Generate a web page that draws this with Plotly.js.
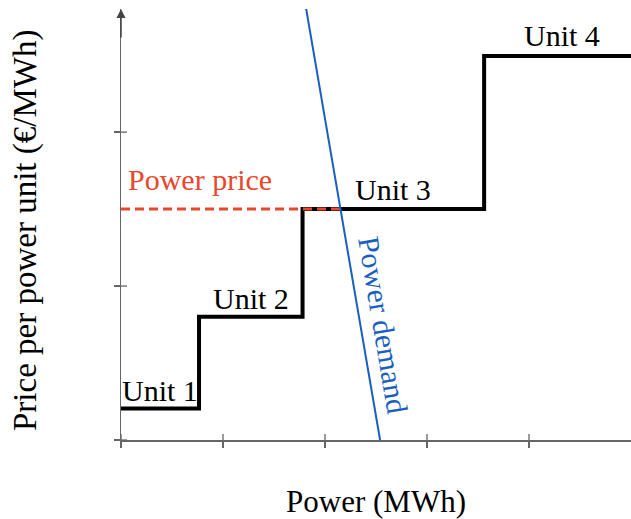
<!DOCTYPE html>
<html>
<head>
<meta charset="utf-8">
<script src="https://cdn.plot.ly/plotly-3.0.1.min.js"></script>
<style>html,body{margin:0;padding:0;background:#fff;}#chart{width:631px;height:519px;}</style>
</head>
<body>
<div id="chart"></div>
<script>
// Supply curve (merit order steps)
const supplyX = [0, 0.765, 0.765, 1.78, 1.78, 3.56, 3.56, 5.0];
const supplyY = [0.205, 0.205, 0.80, 0.80, 1.50, 1.50, 2.495, 2.495];
// Demand line
const demandX = [1.80, 2.54];
const demandY = [2.86, 0];
// Market price line
const priceX = [0, 2.15];
const priceY = [1.50, 1.50];
// Tick positions
const xTicks = [0, 1, 2, 3, 4];
const yTicks = [0, 1, 2];
// Labels
const labelText = ["Unit 1", "Unit 2", "Unit 3", "Unit 4"];
const labelX = [0.38, 1.27, 2.67, 4.32];
const labelY = [0.32, 0.92, 1.63, 2.63];

const FONT = "Liberation Serif, Times New Roman, serif";
const AXC = "#666666";

const traces = [
  {x: supplyX, y: supplyY, mode: "lines", line: {color: "#000000", width: 4}, hoverinfo: "skip"},
  {x: priceX, y: priceY, mode: "lines", line: {color: "#e8472b", width: 3, dash: "9px,5px"}, hoverinfo: "skip"},
  {x: demandX, y: demandY, mode: "lines", line: {color: "#1a5fbf", width: 2}, hoverinfo: "skip"}
];

const annotations = labelText.map((t, i) => ({
  x: labelX[i], y: labelY[i], xref: "x", yref: "y", text: t, showarrow: false,
  font: {family: FONT, size: 30, color: "#000"}
}));
annotations.push({x: 0.775, y: 1.69, xref: "x", yref: "y", text: "Power price", showarrow: false,
  font: {family: FONT, size: 30, color: "#e8472b"}});
annotations.push({x: 2.57, y: 0.75, xref: "x", yref: "y", text: "Power demand", showarrow: false, textangle: 80.4,
  font: {family: FONT, size: 30, color: "#1a5fbf"}});
annotations.push({x: 0, y: 1, xref: "x", yref: "paper", ax: 0, ay: 30, text: "", showarrow: true,
  arrowhead: 2, arrowsize: 1.2, arrowwidth: 1.5, arrowcolor: "#444", standoff: 0});
// y-axis title
annotations.push({x: (25 - 121) / 510, y: (440 - 231) / 431, xref: "paper", yref: "paper",
  xanchor: "center", yanchor: "middle",
  text: "Price per power unit (€/MWh)", textangle: -90, showarrow: false,
  font: {family: FONT, size: 33, color: "#000"}});

// inner half of the crossing tick marks, positioned by the axes
const shapes = [];
xTicks.forEach(v => shapes.push({type: "line", xref: "x", yref: "y", x0: v, x1: v,
  ysizemode: "pixel", yanchor: 0, y0: 0, y1: 6, line: {color: AXC, width: 1.3}}));
yTicks.forEach(v => shapes.push({type: "line", xref: "x", yref: "y", y0: v, y1: v,
  xsizemode: "pixel", xanchor: 0, x0: 0, x1: 6, line: {color: AXC, width: 1.3}}));

const baseAxis = {showgrid: false, zeroline: false, showticklabels: false,
  ticks: "outside", ticklen: 6, tickwidth: 1.3, tickcolor: AXC,
  showline: true, linecolor: AXC, linewidth: 1.5};

const layout = {
  width: 631, height: 519,
  margin: {l: 121, r: 0, t: 9, b: 79},
  paper_bgcolor: "#fff", plot_bgcolor: "#fff",
  showlegend: false,
  xaxis: Object.assign({}, baseAxis, {range: [0, 5], tickvals: xTicks,
    title: {text: "Power (MWh)", font: {family: FONT, size: 31, color: "#000"}, standoff: 46}}),
  yaxis: Object.assign({}, baseAxis, {range: [0, 2.8], tickvals: yTicks}),
  annotations: annotations,
  shapes: shapes
};

Plotly.newPlot("chart", traces, layout, {displayModeBar: false, staticPlot: true});
</script>
</body>
</html>
